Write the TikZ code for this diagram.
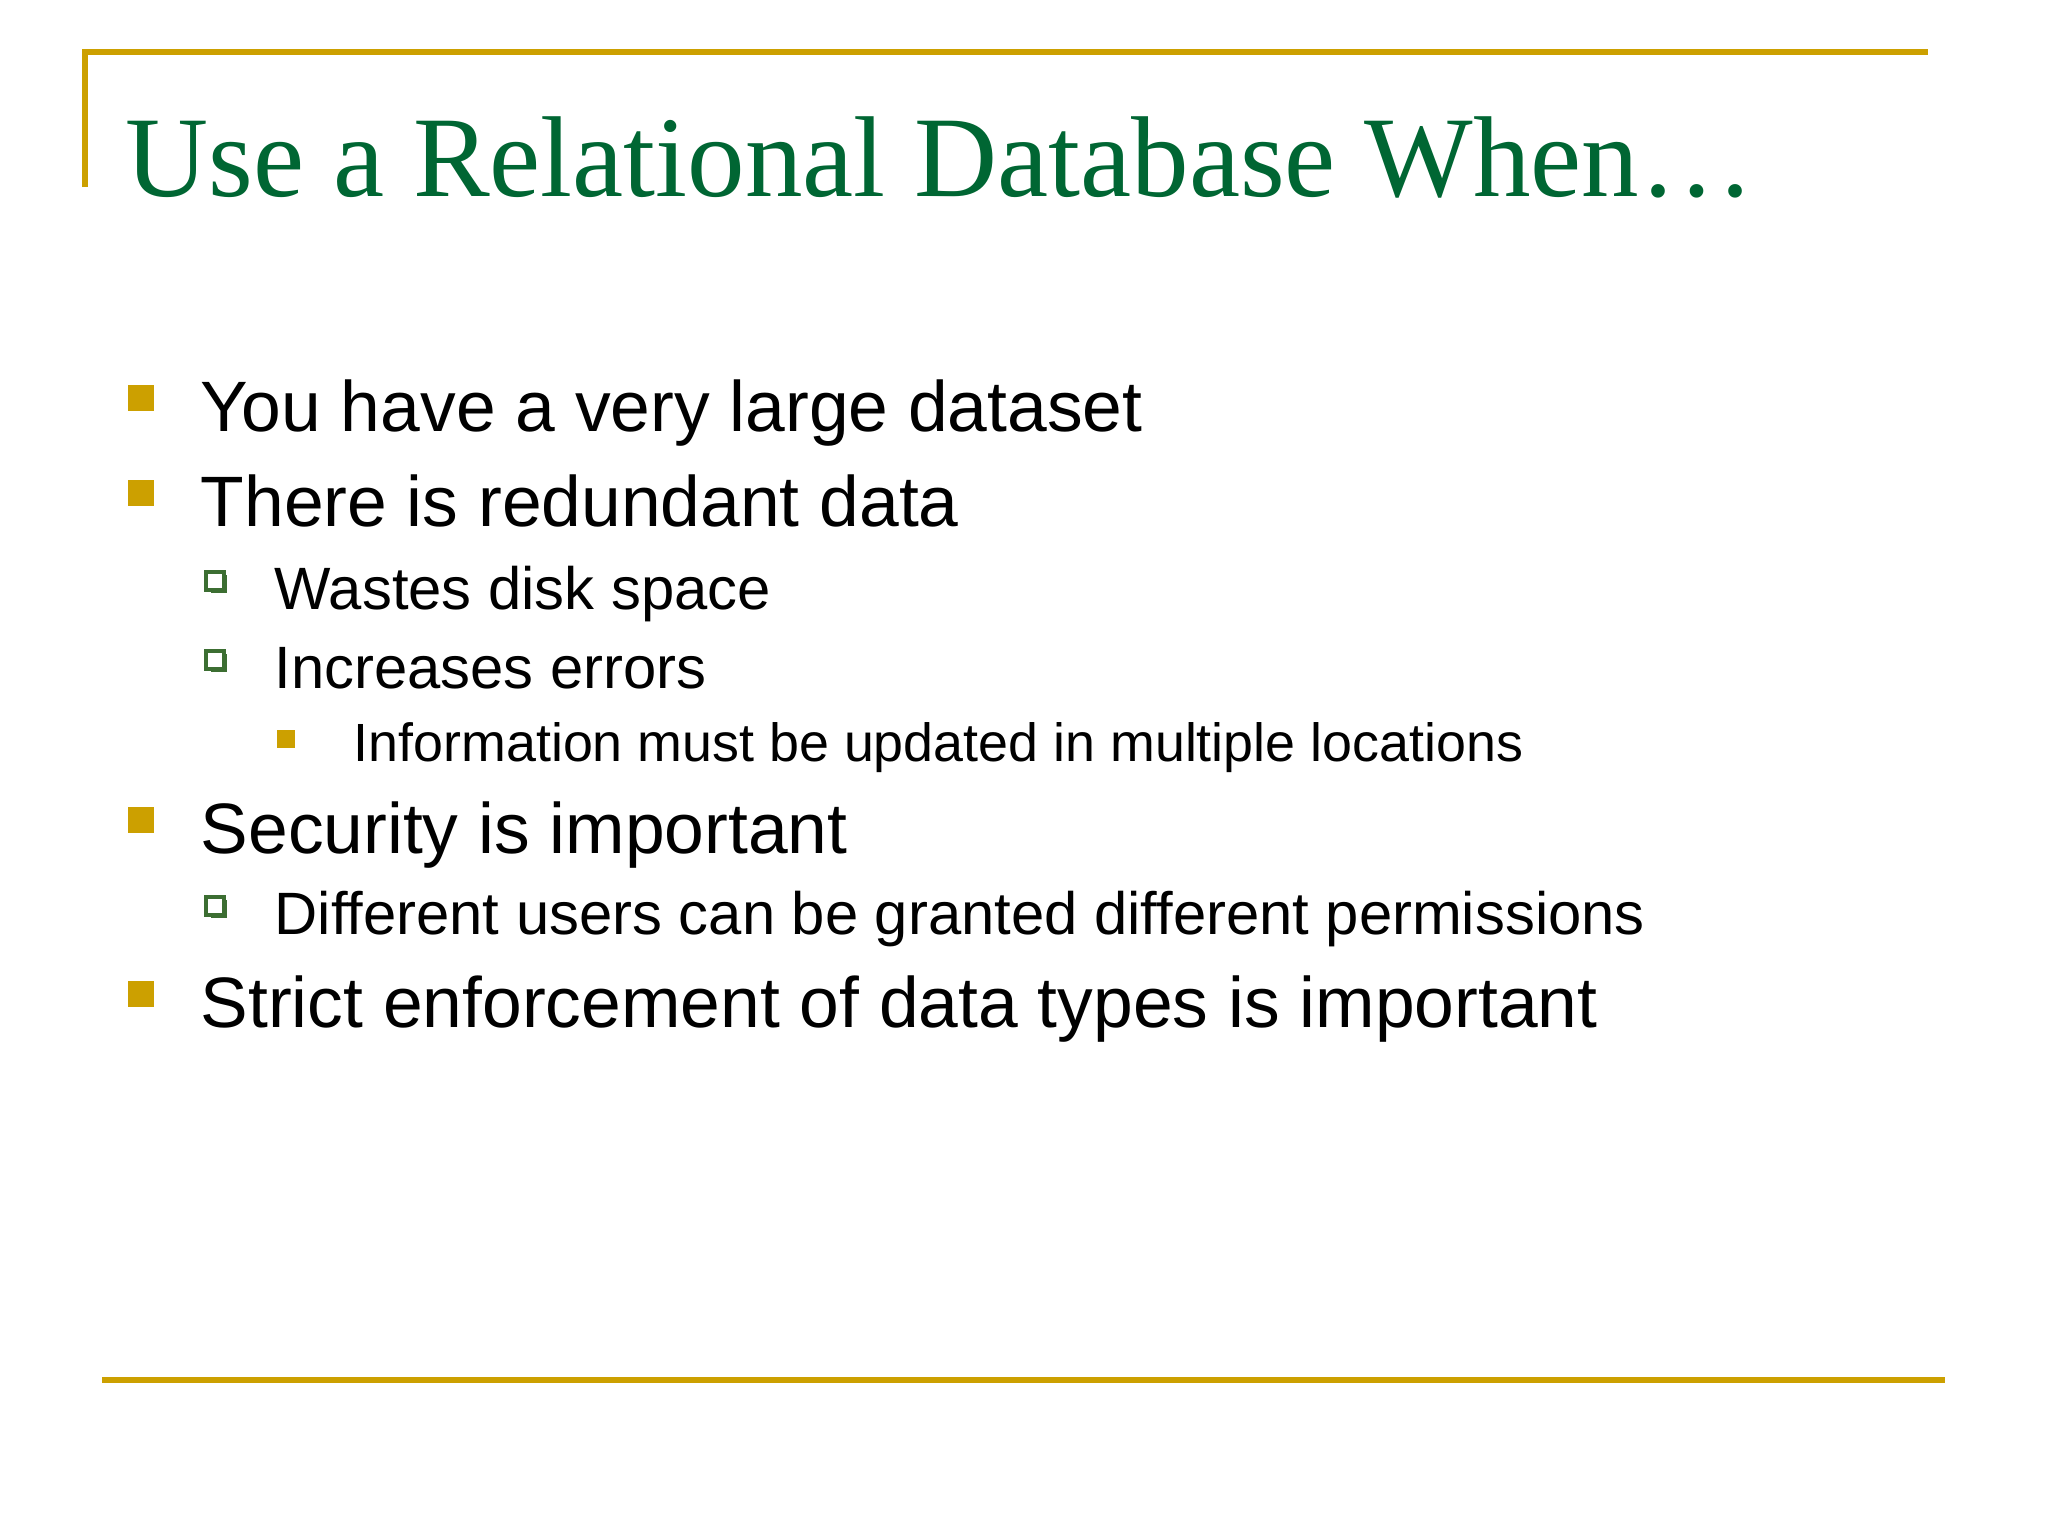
\documentclass[tikz,border=0pt]{standalone}
\usepackage{fontspec}
\setmainfont{Liberation Sans}
\newfontfamily\titlefont{Liberation Serif}
\definecolor{gold}{RGB}{204,160,0}
\definecolor{tgreen}{RGB}{0,102,51}
\definecolor{bgreen}{RGB}{60,110,50}
\begin{document}
\begin{tikzpicture}[x=0.01cm,y=-0.01cm,
  lone/.style={anchor=base west,inner sep=0,font=\fontsize{20.3}{24}\selectfont},
  ltwo/.style={anchor=base west,inner sep=0,font=\fontsize{17}{21}\selectfont},
  lthree/.style={anchor=base west,inner sep=0,font=\fontsize{15.3}{19}\selectfont},
]
\useasboundingbox (0,0) rectangle (2048,1536);
\fill[white] (0,0) rectangle (2048,1536);
\draw[gold,line width=1.5pt] (85,187) -- (85,52) -- (1928,52);
\draw[gold,line width=1.5pt] (102,1380) -- (1945,1380);
\node[anchor=base west,inner sep=0,text=tgreen,font=\titlefont\fontsize{32.7}{38}\selectfont] (title) at (125,196) {Use a Relational Database When…};
% level 1
\foreach \n/\y/\t in {a/431/You have a very large dataset, b/526/There is redundant data, e/853/Security is important, g/1027/Strict enforcement of data types is important}{
  \fill[gold] (128,\y-46) rectangle ++(26,26);
  \node[lone] (\n) at (200,\y) {\t};
}
\foreach \n/\y/\t in {c/609/Wastes disk space, d/688/Increases errors, f/934/Different users can be granted different permissions}{
  \draw[bgreen,line width=1.2pt] (206,\y-37) rectangle ++(18,18);
  \fill[bgreen] (211,\y-19) rectangle ++(15,3);
  \fill[bgreen] (224,\y-34) rectangle ++(3,18);
  \node[ltwo] (\n) at (274,\y) {\t};
}
\fill[gold] (277,730) rectangle ++(18,18);
\node[lthree] (h) at (353,761) {Information must be updated in multiple locations};
\end{tikzpicture}
\end{document}
